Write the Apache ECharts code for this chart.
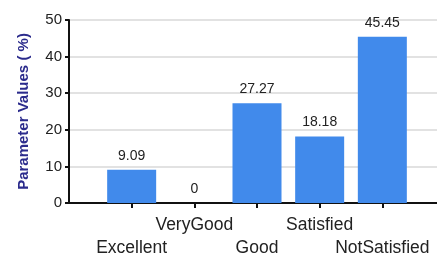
<!DOCTYPE html>
<html><head><meta charset="utf-8">
<script src="https://cdn.jsdelivr.net/npm/echarts@6/dist/echarts.min.js"></script>
<style>html,body{margin:0;padding:0;background:#fff}#c{width:437px;height:257px}</style>
</head><body><div id="c"></div>
<script>
var categories = ['Excellent', 'VeryGood', 'Good', 'Satisfied', 'NotSatisfied'];
var values = [9.09, 0, 27.27, 18.18, 45.45];
var yTicks = [0, 10, 20, 30, 40, 50];
var yTitle = 'Parameter Values ( %)';

var axisCats = [''].concat(categories).concat(['']);
var axisVals = [null].concat(values).concat([null]);

var chart = echarts.init(document.getElementById('c'), null, {renderer: 'canvas'});
chart.setOption({
  animation: false,
  grid: {left: 69, width: 376, top: 20, bottom: 54, containLabel: false, outerBoundsMode: 'none'},
  xAxis: {
    type: 'category', data: axisCats, boundaryGap: false,
    axisLine: {lineStyle: {color: '#111', width: 2}},
    axisTick: {length: 5, lineStyle: {color: '#111', width: 2},
      interval: function (i) { return i > 0; }},
    axisLabel: {interval: 0, color: '#222', fontFamily: 'Liberation Sans, Arial', fontSize: 17.5,
      lineHeight: 23, margin: 11,
      formatter: function (v, i) { if (!v) return ''; return (i % 2 === 1) ? '\n' + v : v; }},
    splitLine: {show: false}
  },
  yAxis: {
    type: 'value', min: yTicks[0], max: yTicks[yTicks.length - 1], interval: 10,
    name: yTitle, nameLocation: 'middle', nameGap: 38, nameRotate: 90,
    nameTextStyle: {color: '#2b2b8c', fontWeight: 'bold', fontSize: 15, fontFamily: 'Liberation Sans, Arial'},
    axisLine: {show: true, lineStyle: {color: '#111', width: 2}},
    axisTick: {show: true, length: 4, lineStyle: {color: '#111', width: 2}},
    axisLabel: {color: '#222', fontFamily: 'Liberation Sans, Arial', fontSize: 15, margin: 7},
    splitLine: {lineStyle: {color: '#e2e2e2', width: 2}}
  },
  series: [{
    type: 'bar', data: axisVals, barWidth: 49,
    itemStyle: {color: '#418aeb'},
    label: {show: true, position: 'top', distance: 7, color: '#222',
      fontFamily: 'Liberation Sans, Arial', fontSize: 14,
      formatter: function (p) { return p.value == null ? '' : String(p.value); }}
  }]
});
</script></body></html>
